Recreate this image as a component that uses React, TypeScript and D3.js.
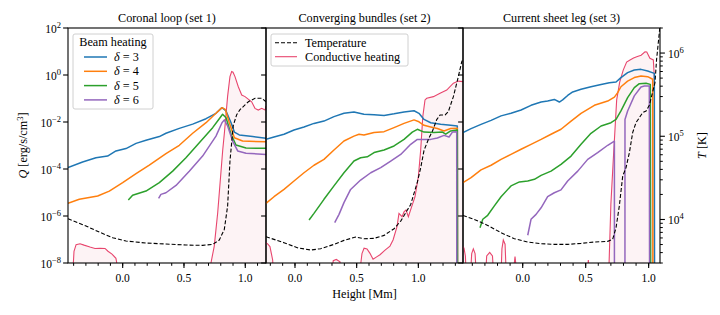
import React from 'react';
import * as d3 from 'd3';

type Pt = [number, number]; // [height in Mm, log10 of value]

const ZERO = -30; // log10 of a vanishing value (curve falls off the axis)

const BEAM_DELTAS = ['3', '4', '5', '6'];
const BEAM_COLORS = ['#1f77b4', '#ff7f0e', '#2ca02c', '#9467bd'];
const COND_COLOR = '#e8466e';

// ---- set 1: coronal loop ----
const loopD3: Pt[] = [[-0.446,-3.94],[-0.327,-3.70],[-0.218,-3.52],[-0.123,-3.45],[-0.055,-3.23],[0.027,-3.13],[0.109,-2.91],[0.190,-2.78],[0.299,-2.62],[0.353,-2.48],[0.462,-2.27],[0.571,-2.09],[0.680,-1.86],[0.761,-1.63],[0.810,-1.39],[0.843,-1.53],[0.884,-2.03],[0.911,-2.43],[0.951,-2.55],[1.060,-2.62],[1.169,-2.69]];
const loopD4: Pt[] = [[-0.446,-5.46],[-0.354,-5.29],[-0.204,-5.15],[-0.109,-4.94],[0.0,-4.58],[0.109,-4.20],[0.217,-3.84],[0.353,-3.35],[0.462,-2.99],[0.571,-2.48],[0.680,-2.03],[0.761,-1.63],[0.810,-1.39],[0.837,-1.46],[0.870,-2.03],[0.911,-2.67],[0.978,-2.81],[1.169,-2.84]];
const loopD5: Pt[] = [[0.046,-5.32],[0.081,-5.12],[0.190,-4.94],[0.299,-4.58],[0.408,-4.09],[0.516,-3.52],[0.625,-2.88],[0.734,-2.24],[0.788,-1.86],[0.815,-1.67],[0.843,-1.82],[0.884,-2.52],[0.924,-2.98],[1.006,-3.11],[1.169,-3.12]];
const loopD6: Pt[] = [[0.293,-5.25],[0.312,-5.08],[0.353,-5.01],[0.435,-4.70],[0.543,-4.10],[0.652,-3.45],[0.761,-2.60],[0.810,-2.03],[0.829,-1.91],[0.856,-2.17],[0.897,-2.81],[0.938,-3.23],[1.006,-3.33],[1.169,-3.38]];
const loopT: Pt[] = [[-0.446,4.009],[-0.299,3.921],[-0.191,3.849],[-0.082,3.781],[0.027,3.741],[0.190,3.717],[0.353,3.705],[0.516,3.693],[0.652,3.689],[0.734,3.701],[0.788,3.753],[0.829,3.881],[0.856,4.162],[0.875,4.70],[0.902,5.13],[0.930,5.26],[0.957,5.32],[1.0,5.38],[1.025,5.415],[1.08,5.456],[1.134,5.456],[1.169,5.415]];
const loopQc: Pt[] = [[-0.446,ZERO],[-0.413,-9],[-0.397,-7.5],[-0.38,-7.22],[-0.348,-7.18],[-0.315,-7.24],[-0.267,-7.32],[-0.226,-7.38],[-0.185,-7.37],[-0.144,-7.38],[-0.12,-7.5],[-0.087,-7.62],[-0.055,-7.8],[-0.038,-8.3],[-0.03,-9],[0.68,-9],[0.72,-8.0],[0.747,-7.28],[0.775,-5.86],[0.816,-3.19],[0.829,-2.5],[0.856,-0.9],[0.875,-0.07],[0.889,0.15],[0.90,0.12],[0.916,-0.07],[0.943,-0.5],[0.971,-0.85],[0.998,-0.92],[1.052,-1.14],[1.079,-1.42],[1.106,-1.49],[1.134,-1.42],[1.161,-1.49],[1.169,-1.32]];

// ---- set 2: converging bundles ----
const bundD3: Pt[] = [[-0.235,-2.74],[-0.170,-2.64],[-0.089,-2.52],[-0.008,-2.34],[0.073,-2.21],[0.154,-2.06],[0.235,-1.96],[0.316,-1.77],[0.397,-1.63],[0.478,-1.57],[0.559,-1.67],[0.641,-1.69],[0.722,-1.72],[0.803,-1.65],[0.884,-1.57],[0.965,-1.52],[1.005,-1.63],[1.046,-1.89],[1.100,-2.03],[1.181,-2.10],[1.262,-2.14],[1.316,-2.17],[1.322,ZERO]];
const bundD4: Pt[] = [[-0.235,-5.46],[-0.170,-5.18],[-0.089,-4.87],[-0.008,-4.51],[0.073,-4.16],[0.154,-3.84],[0.235,-3.59],[0.316,-3.19],[0.397,-2.81],[0.478,-2.60],[0.519,-2.52],[0.559,-2.55],[0.641,-2.45],[0.722,-2.41],[0.803,-2.24],[0.884,-2.06],[0.965,-1.91],[1.005,-1.99],[1.046,-2.14],[1.100,-2.21],[1.154,-2.28],[1.208,-2.38],[1.262,-2.28],[1.316,-2.27],[1.322,ZERO]];
const bundD5: Pt[] = [[0.114,-6.17],[0.154,-5.89],[0.235,-5.29],[0.316,-4.72],[0.397,-4.16],[0.478,-3.66],[0.532,-3.52],[0.586,-3.48],[0.641,-3.30],[0.722,-3.19],[0.803,-3.02],[0.884,-2.74],[0.951,-2.43],[0.992,-2.31],[1.046,-2.43],[1.127,-2.45],[1.195,-2.43],[1.222,-2.52],[1.262,-2.38],[1.316,-2.34],[1.320,ZERO]];
const bundD6: Pt[] = [[0.322,-6.28],[0.357,-5.93],[0.397,-5.43],[0.451,-4.87],[0.532,-4.47],[0.614,-4.16],[0.695,-3.94],[0.776,-3.66],[0.857,-3.38],[0.938,-2.95],[0.992,-2.74],[1.046,-2.74],[1.100,-2.74],[1.154,-2.68],[1.208,-2.57],[1.249,-2.64],[1.276,-2.43],[1.311,-2.41],[1.313,ZERO]];
const bundT: Pt[] = [[-0.235,3.793],[-0.089,3.721],[0.019,3.661],[0.127,3.633],[0.208,3.649],[0.316,3.701],[0.397,3.749],[0.492,3.789],[0.559,3.769],[0.641,3.773],[0.722,3.809],[0.803,3.889],[0.857,3.981],[0.938,4.18],[0.992,4.45],[1.019,4.62],[1.046,4.83],[1.086,4.98],[1.114,5.06],[1.149,5.20],[1.176,5.256],[1.217,5.256],[1.243,5.295],[1.284,5.476],[1.324,5.716],[1.352,5.896],[1.370,5.95]];
const bundQc: Pt[] = [[-0.235,-7.13],[-0.22,-7.2],[-0.203,-7.3],[-0.181,-7.87],[-0.17,-9],[0.29,-9],[0.31,-7.9],[0.335,-7.85],[0.365,-7.95],[0.375,-9],[0.511,-9],[0.543,-7.6],[0.560,-7.37],[0.584,-7.4],[0.608,-7.59],[0.633,-7.84],[0.665,-7.73],[0.689,-7.65],[0.730,-7.45],[0.770,-7.28],[0.795,-7.02],[0.827,-6.45],[0.843,-5.89],[0.868,-6.03],[0.884,-5.82],[0.900,-5.74],[0.919,-6.03],[0.946,-5.6],[0.973,-5.18],[1.0,-4.33],[1.019,-3.19],[1.036,-1.77],[1.054,-1.06],[1.068,-0.99],[1.122,-0.92],[1.176,-0.78],[1.23,-0.64],[1.284,-0.35],[1.324,-0.26],[1.362,-0.28]];

// ---- set 3: current sheet leg ----
const sheetD3: Pt[] = [[-0.474,-2.45],[-0.410,-2.28],[-0.331,-2.10],[-0.251,-1.93],[-0.172,-1.74],[-0.093,-1.63],[-0.013,-1.49],[0.066,-1.29],[0.146,-1.15],[0.198,-1.11],[0.251,-1.04],[0.291,-1.15],[0.317,-1.06],[0.357,-0.87],[0.397,-0.72],[0.463,-0.61],[0.542,-0.50],[0.622,-0.40],[0.688,-0.33],[0.741,-0.30],[0.780,-0.11],[0.833,0.10],[0.886,0.21],[0.939,0.24],[0.992,0.17],[1.045,0.07],[1.050,ZERO]];
const sheetD4: Pt[] = [[-0.474,-4.58],[-0.410,-4.37],[-0.331,-4.04],[-0.251,-3.84],[-0.172,-3.59],[-0.093,-3.38],[-0.013,-3.16],[0.066,-2.95],[0.146,-2.74],[0.225,-2.52],[0.304,-2.31],[0.384,-1.96],[0.463,-1.63],[0.569,-1.29],[0.675,-1.11],[0.728,-0.94],[0.754,-0.75],[0.780,-0.50],[0.833,-0.26],[0.886,-0.11],[0.939,-0.04],[0.992,-0.07],[1.032,-0.18],[1.037,ZERO]];
const sheetD5: Pt[] = [[-0.339,-6.50],[-0.317,-6.14],[-0.278,-5.97],[-0.225,-5.57],[-0.172,-5.18],[-0.093,-4.72],[-0.026,-4.55],[0.040,-4.51],[0.093,-4.44],[0.146,-4.27],[0.225,-4.09],[0.304,-3.80],[0.384,-3.45],[0.463,-2.95],[0.542,-2.48],[0.622,-2.17],[0.701,-2.03],[0.741,-1.89],[0.780,-1.53],[0.833,-0.96],[0.886,-0.54],[0.926,-0.37],[0.979,-0.35],[1.013,-0.40],[1.024,ZERO]];
const sheetD6: Pt[] = [[0.040,-6.82],[0.066,-6.14],[0.106,-5.93],[0.146,-5.65],[0.198,-5.18],[0.251,-5.01],[0.304,-4.89],[0.357,-4.51],[0.437,-4.09],[0.516,-3.59],[0.595,-3.30],[0.675,-2.99],[0.728,-2.81],[0.729,ZERO],[0.811,ZERO],[0.812,-1.89],[0.833,-1.53],[0.886,-0.89],[0.939,-0.51],[0.966,-0.47],[1.005,-0.47],[1.013,ZERO]];
const sheetT: Pt[] = [[-0.474,4.049],[-0.384,4.001],[-0.278,3.929],[-0.172,3.841],[-0.066,3.769],[0.040,3.729],[0.146,3.709],[0.251,3.701],[0.357,3.701],[0.463,3.713],[0.569,3.729],[0.675,3.737],[0.714,3.761],[0.741,3.901],[0.767,4.162],[0.794,4.522],[0.820,4.622],[0.847,4.803],[0.873,5.043],[0.899,5.163],[0.926,5.223],[0.952,5.283],[0.979,5.303],[1.005,5.371],[1.050,5.644],[1.063,5.925],[1.095,6.4]];
const sheetQc: Pt[] = [[-0.474,-7.3],[-0.466,-7.37],[-0.455,-7.7],[-0.444,-9],[-0.42,-9],[-0.405,-7.6],[-0.392,-7.4],[-0.378,-7.6],[-0.363,-9],[-0.30,-9],[-0.286,-7.7],[-0.262,-7.55],[-0.24,-7.7],[-0.225,-9],[-0.175,-9],[-0.165,-7.4],[-0.154,-7.02],[-0.14,-7.2],[-0.127,-9],[-0.087,-9],[-0.061,-7.73],[-0.035,-9],[0.508,-9],[0.521,-7.87],[0.54,-9],[0.68,-9],[0.70,-5.5],[0.719,-3.62],[0.746,-1.06],[0.77,-0.3],[0.798,0.21],[0.825,0.55],[0.852,0.64],[0.88,0.72],[0.905,0.78],[0.94,0.84],[0.971,0.99],[0.985,0.98],[1.01,0.71],[1.037,0.64],[1.045,-0.07],[1.05,ZERO]];

const TITLES = ['Coronal loop (set 1)', 'Converging bundles (set 2)', 'Current sheet leg (set 3)'];
const X_DOMAINS: [number, number][] = [[-0.446, 1.169], [-0.235, 1.362], [-0.474, 1.09]];
const BEAMS = [[loopD3, loopD4, loopD5, loopD6], [bundD3, bundD4, bundD5, bundD6], [sheetD3, sheetD4, sheetD5, sheetD6]];
const TEMPS = [loopT, bundT, sheetT];
const CONDS = [loopQc, bundQc, sheetQc];

const Q_TICKS = [-8, -6, -4, -2, 0, 2];
const T_TICKS = [4, 5, 6];
const X_TICKS = [0, 0.5, 1.0];

const FONT = '"Liberation Serif", "Times New Roman", serif';
const FS = 12.2;      // titles, labels, legend
const FS_TICK = 11.5; // tick labels
const FS_SUP = 8.5;
const TOP = 28;
const BOTTOM = 263;
const EDGES = [68, 266, 463, 660];
const MAJ = 4.9;
const MIN = 2.8;

const yQ = d3.scaleLog().domain([1e-8, 1e2]).range([BOTTOM, TOP]);
const yT = d3.scaleLog().domain([3e3, 2e6]).range([BOTTOM, TOP]);

const sup = (e: number) => (e < 0 ? '\u2212' + Math.abs(e) : String(e));

const Panel = ({ i }: { i: number }) => {
  const x0 = EDGES[i];
  const x1 = EDGES[i + 1];
  const x = d3.scaleLinear().domain(X_DOMAINS[i]).range([x0, x1]);
  const qLine = d3.line<Pt>().x(d => x(d[0])).y(d => yQ(Math.pow(10, d[1])));
  const tLine = d3.line<Pt>().x(d => x(d[0])).y(d => yT(Math.pow(10, d[1])));
  const qArea = d3.area<Pt>().x(d => x(d[0])).y0(BOTTOM + 2).y1(d => yQ(Math.pow(10, d[1])));
  const minor = d3.range(Math.ceil(X_DOMAINS[i][0] * 10), Math.floor(X_DOMAINS[i][1] * 10) + 1).map(k => k / 10);
  const clip = `clip${i}`;
  return (
    <g>
      <defs>
        <clipPath id={clip}>
          <rect x={x0} y={TOP} width={x1 - x0} height={BOTTOM - TOP} />
        </clipPath>
      </defs>
      <g clipPath={`url(#${clip})`}>
        <path d={qArea(CONDS[i]) || ''} fill={COND_COLOR} fillOpacity={0.065} stroke="none" />
        <path d={qLine(CONDS[i]) || ''} fill="none" stroke={COND_COLOR} strokeWidth={1.1} />
        {BEAMS[i].map((s, k) => (
          <path key={k} d={qLine(s) || ''} fill="none" stroke={BEAM_COLORS[k]} strokeWidth={1.5} strokeLinejoin="round" />
        ))}
        <path d={tLine(TEMPS[i]) || ''} fill="none" stroke="#000" strokeWidth={1.1} strokeDasharray="4,2" />
      </g>
      <rect x={x0} y={TOP} width={x1 - x0} height={BOTTOM - TOP} fill="none" stroke="#000" strokeWidth={1.1} />
      {Q_TICKS.map(e => (
        <g key={e}>
          <line x1={x0 - MAJ} x2={x0} y1={yQ(Math.pow(10, e))} y2={yQ(Math.pow(10, e))} stroke="#000" strokeWidth={1.1} />
          {i === 0 && (
            <text x={x0 - 7} y={yQ(Math.pow(10, e)) + 5} textAnchor="end" fontSize={FS_TICK} fontFamily={FONT}>
              10<tspan dy={-5} fontSize={FS_SUP}>{sup(e)}</tspan>
            </text>
          )}
        </g>
      ))}
      {minor.map(v => (
        <line key={v} x1={x(v)} x2={x(v)} y1={BOTTOM} y2={BOTTOM + MIN} stroke="#000" strokeWidth={1} />
      ))}
      {X_TICKS.map(v => (
        <g key={v}>
          <line x1={x(v)} x2={x(v)} y1={BOTTOM} y2={BOTTOM + MAJ} stroke="#000" strokeWidth={1.1} />
          <text x={x(v)} y={281.5} textAnchor="middle" fontSize={FS_TICK} fontFamily={FONT}>{v.toFixed(1)}</text>
        </g>
      ))}
      <text x={(x0 + x1) / 2} y={22} textAnchor="middle" fontSize={FS} fontFamily={FONT}>{TITLES[i]}</text>
    </g>
  );
};

const TAxis = () => {
  const xr = EDGES[3];
  const minors: number[] = [];
  for (let e = 3; e <= 6; e++) {
    for (let m = 2; m <= 9; m++) {
      const v = m * Math.pow(10, e);
      if (v >= 3e3 && v <= 2e6) minors.push(v);
    }
  }
  return (
    <g>
      {minors.map(v => (
        <line key={v} x1={xr} x2={xr + MIN} y1={yT(v)} y2={yT(v)} stroke="#000" strokeWidth={1} />
      ))}
      {T_TICKS.map(e => (
        <g key={e}>
          <line x1={xr} x2={xr + MAJ} y1={yT(Math.pow(10, e))} y2={yT(Math.pow(10, e))} stroke="#000" strokeWidth={1.1} />
          <text x={xr + 8} y={yT(Math.pow(10, e)) + 5} fontSize={FS_TICK} fontFamily={FONT}>
            10<tspan dy={-5} fontSize={FS_SUP}>{sup(e)}</tspan>
          </text>
        </g>
      ))}
      <text transform={`translate(706,${(TOP + BOTTOM) / 2}) rotate(-90)`} textAnchor="middle" fontSize={FS} fontFamily={FONT}>
        <tspan fontStyle="italic">T</tspan> [K]
      </text>
    </g>
  );
};

const Legends = () => (
  <g fontFamily={FONT} fontSize={FS}>
    <rect x={73} y={34} width={80} height={75} rx={2} fill="#fff" fillOpacity={0.8} stroke="#d0d0d0" strokeWidth={1} />
    <text x={113} y={46} textAnchor="middle">Beam heating</text>
    {BEAM_DELTAS.map((d, k) => {
      const yy = 57 + k * 14.3;
      return (
        <g key={d}>
          <line x1={84} x2={107} y1={yy} y2={yy} stroke={BEAM_COLORS[k]} strokeWidth={1.5} />
          <text x={114} y={yy + 4}>
            <tspan fontStyle="italic">{'\u03b4'}</tspan> = {d}
          </text>
        </g>
      );
    })}
    <rect x={271} y={34} width={137} height={32} rx={2} fill="#fff" fillOpacity={0.8} stroke="#d0d0d0" strokeWidth={1} />
    <line x1={275} x2={297} y1={42.7} y2={42.7} stroke="#000" strokeWidth={1.1} strokeDasharray="4,2" />
    <text x={305} y={46.7}>Temperature</text>
    <line x1={275} x2={297} y1={56.7} y2={56.7} stroke={COND_COLOR} strokeWidth={1.1} />
    <text x={305} y={60.7}>Conductive heating</text>
  </g>
);

export default function App() {
  return (
    <svg width={720} height={315} style={{ position: 'absolute', left: 0, top: 0, background: '#fff' }}>
      {[0, 1, 2].map(i => <Panel key={i} i={i} />)}
      <TAxis />
      <Legends />
      <text transform={`translate(27,${(TOP + BOTTOM) / 2}) rotate(-90)`} textAnchor="middle" fontSize={FS} fontFamily={FONT}>
        <tspan fontStyle="italic">Q</tspan> [erg/s/cm<tspan dy={-4} fontSize={FS_SUP}>3</tspan><tspan dy={4}>]</tspan>
      </text>
      <text x={(EDGES[1] + EDGES[2]) / 2} y={298} textAnchor="middle" fontSize={FS} fontFamily={FONT}>Height [Mm]</text>
    </svg>
  );
}
